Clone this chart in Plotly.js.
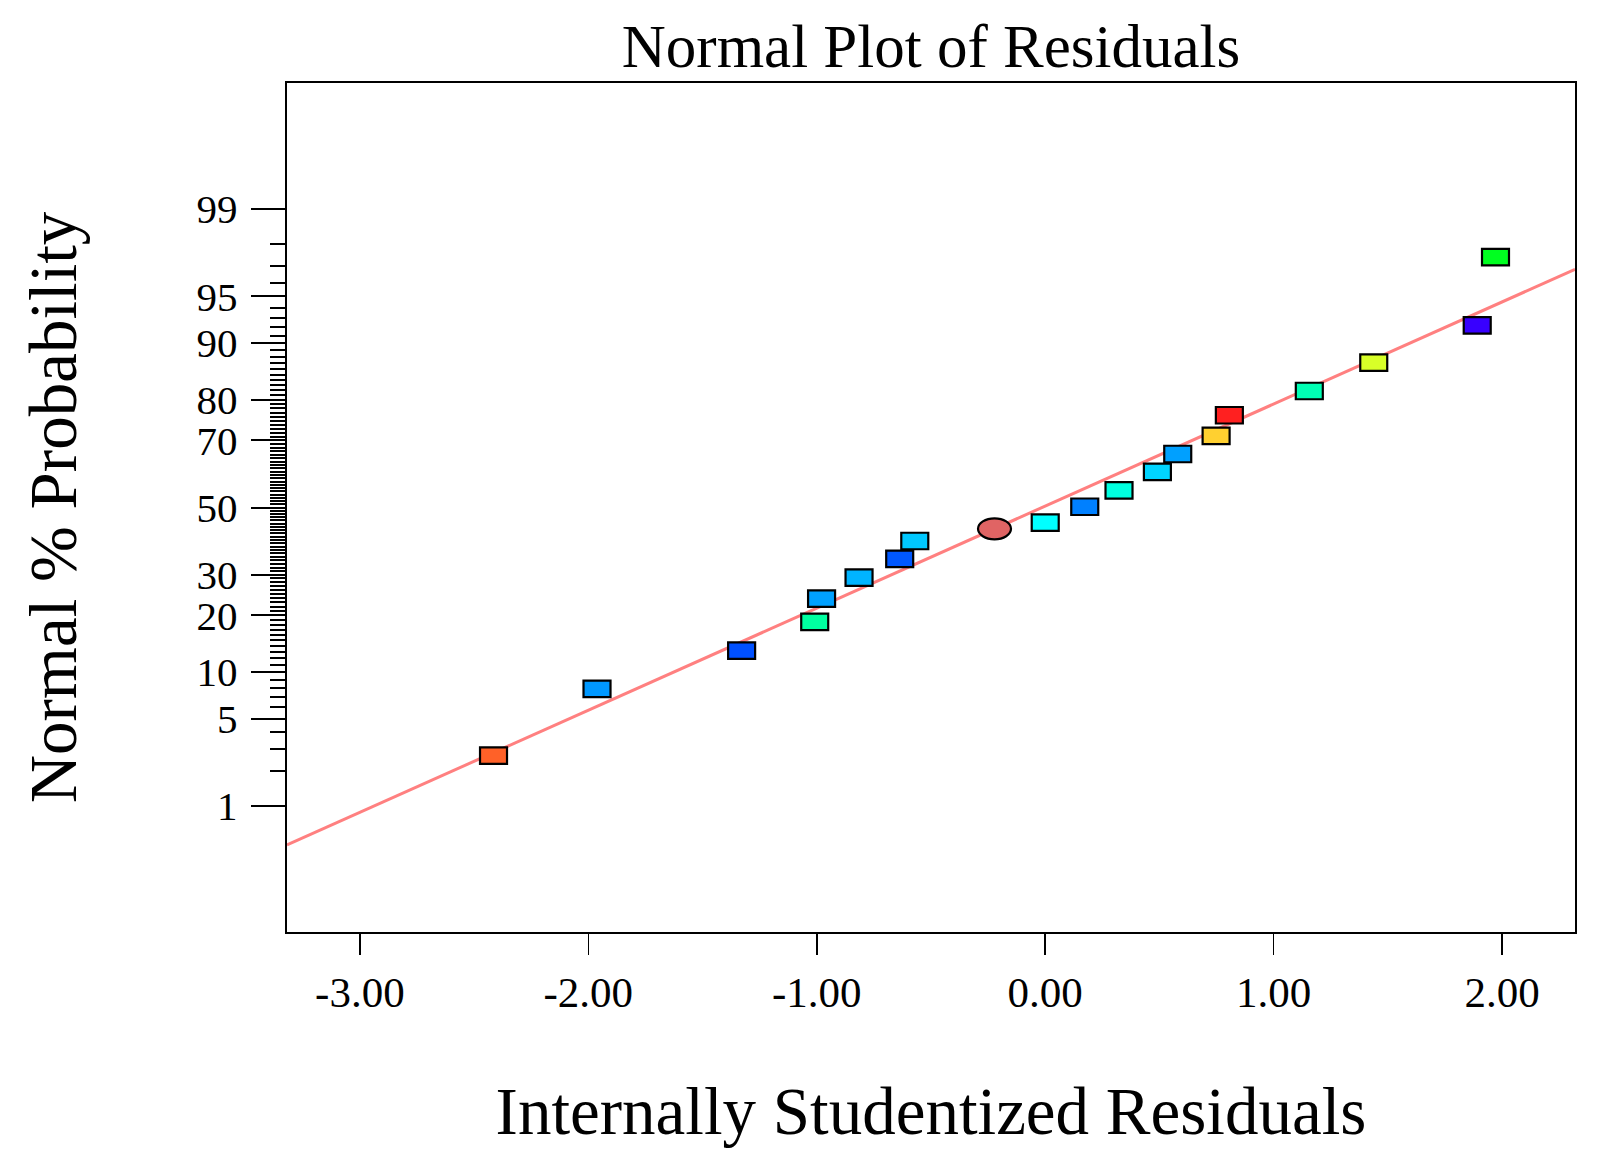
<!DOCTYPE html>
<html>
<head>
<meta charset="utf-8">
<script src="https://cdn.plot.ly/plotly-3.0.1.min.js"></script>
<style>
  html, body { margin: 0; padding: 0; background: #fff; }
  #chart { width: 1612px; height: 1164px; }
</style>
</head>
<body>
<div id="chart"></div>
<script>
// ---- Data ----
const residuals = [-2.415, -1.962, -1.329, -1.009, -0.979, -0.815, -0.637, -0.571, -0.222, 0.000,
                   0.173, 0.323, 0.491, 0.580, 0.748, 0.806, 1.156, 1.438, 1.891, 1.971];
const probPct   = [2.65, 7.88, 13.24, 18.62, 23.86, 29.25, 34.42, 39.70, 43.41, 45.30,
                   50.24, 55.33, 60.91, 66.17, 71.19, 76.39, 81.81, 87.05, 92.22, 97.45];
const pointColors = ['#FF6128', '#0098FF', '#0050FF', '#00FFA0', '#00A0FF', '#00B4FF', '#0058FF', '#00C8FF', '#E06464', '#00FFFF',
                     '#0080FF', '#00FFE0', '#00D4FF', '#00A0FF', '#FFD030', '#FF2020', '#00FFB4', '#D8FF28', '#3800FF', '#00FF20'];
const pointShapes = ['rect','rect','rect','rect','rect','rect','rect','rect','circle','rect',
                     'rect','rect','rect','rect','rect','rect','rect','rect','rect','rect'];
const lineX   = [-3.319, 2.319];
const linePct = [0.427, 96.83];
const majorTickPct = [1, 5, 10, 20, 30, 50, 70, 80, 90, 95, 99];
const majorTickLabels = ['1', '5', '10', '20', '30', '50', '70', '80', '90', '95', '99'];
const minorTickPct = [2,3,4,6,7,8,9,11,12,13,14,15,16,17,18,19,21,22,23,24,25,26,27,28,29,
                      31,32,33,34,35,36,37,38,39,40,41,42,43,44,45,46,47,48,49,51,52,53,54,55,56,57,58,59,
                      60,61,62,63,64,65,66,67,68,69,71,72,73,74,75,76,77,78,79,81,82,83,84,85,86,87,88,89,
                      91,92,93,94,96,97,98];
const xTickVals = [-3, -2, -1, 0, 1, 2];
const xTickLabels = ['-3.00', '-2.00', '-1.00', '0.00', '1.00', '2.00'];

// ---- Normal quantile (probit) transform for the probability axis ----
function probit(p) {
  // Acklam's algorithm
  const a = [-3.969683028665376e+01, 2.209460984245205e+02, -2.759285104469687e+02, 1.383577518672690e+02, -3.066479806614716e+01, 2.506628277459239e+00];
  const b = [-5.447609879822406e+01, 1.615858368580409e+02, -1.556989798598866e+02, 6.680131188771972e+01, -1.328068155288572e+01];
  const c = [-7.784894002430293e-03, -3.223964580411365e-01, -2.400758277161838e+00, -2.549732539343734e+00, 4.374664141464968e+00, 2.938163982698783e+00];
  const d = [7.784695709041462e-03, 3.224671290700398e-01, 2.445134137142996e+00, 3.754408661907416e+00];
  const plow = 0.02425, phigh = 1 - plow;
  let q, r;
  if (p < plow) {
    q = Math.sqrt(-2 * Math.log(p));
    return (((((c[0]*q+c[1])*q+c[2])*q+c[3])*q+c[4])*q+c[5]) / ((((d[0]*q+d[1])*q+d[2])*q+d[3])*q+1);
  } else if (p <= phigh) {
    q = p - 0.5; r = q*q;
    return (((((a[0]*r+a[1])*r+a[2])*r+a[3])*r+a[4])*r+a[5])*q / (((((b[0]*r+b[1])*r+b[2])*r+b[3])*r+b[4])*r+1);
  } else {
    q = Math.sqrt(-2 * Math.log(1 - p));
    return -(((((c[0]*q+c[1])*q+c[2])*q+c[3])*q+c[4])*q+c[5]) / ((((d[0]*q+d[1])*q+d[2])*q+d[3])*q+1);
  }
}
const toZ = pct => probit(pct / 100);

const FONT = '"Liberation Serif", "Times New Roman", serif';
const yRange = [-3.309, 3.309];
const xRange = [-3.319, 2.319];

const pointZ = probPct.map(toZ);

const traces = [
  {
    x: lineX, y: linePct.map(toZ), xaxis: 'x', yaxis: 'y',
    mode: 'lines', line: { color: 'rgb(255,128,128)', width: 3 },
    hoverinfo: 'skip', showlegend: false
  },
  {
    x: residuals, y: pointZ, xaxis: 'x', yaxis: 'y',
    mode: 'markers', marker: { size: 1, opacity: 0 },
    text: probPct.map(p => p.toFixed(2) + '%'),
    hovertemplate: '%{x:.2f}, %{text}<extra></extra>',
    showlegend: false
  },
  {
    x: [xRange[0]], y: [0], xaxis: 'x', yaxis: 'y2',
    mode: 'markers', marker: { size: 1, opacity: 0 },
    hoverinfo: 'skip', showlegend: false
  }
];

// markers drawn as pixel-sized shapes anchored at the data points
const shapes = residuals.map((xv, i) => {
  const isEll = pointShapes[i] === 'circle';
  const hw = isEll ? 16.5 : 13.5, hh = isEll ? 10.5 : 8.25;
  return {
    type: isEll ? 'circle' : 'rect',
    xref: 'x', yref: 'y',
    xsizemode: 'pixel', ysizemode: 'pixel',
    xanchor: xv, yanchor: pointZ[i],
    x0: -hw, x1: hw, y0: -hh, y1: hh,
    fillcolor: pointColors[i],
    line: { color: '#000', width: 2.2 },
    layer: 'above'
  };
});

const layout = {
  width: 1612, height: 1164,
  paper_bgcolor: '#fff', plot_bgcolor: '#fff',
  margin: { l: 287, r: 37, t: 83, b: 232 },
  font: { family: FONT, color: '#000' },
  title: {
    text: 'Normal Plot of Residuals',
    font: { family: FONT, size: 61, color: '#000' },
    x: 0.5, xref: 'paper', xanchor: 'center',
    y: 1 - 46 / 1164, yref: 'container', yanchor: 'middle'
  },
  xaxis: {
    range: xRange, showgrid: false, zeroline: false,
    showline: true, linecolor: '#000', linewidth: 2.2, mirror: true,
    ticks: 'outside', ticklen: 21, tickwidth: 1.5, tickcolor: '#000',
    tickvals: xTickVals, ticktext: xTickLabels,
    tickfont: { family: FONT, size: 43, color: '#000' },
    ticklabelstandoff: 0,
    title: { text: 'Internally Studentized Residuals', font: { family: FONT, size: 67, color: '#000' }, standoff: 72 }
  },
  yaxis: {
    range: yRange, showgrid: false, zeroline: false,
    showline: true, linecolor: '#000', linewidth: 2.2, mirror: true,
    ticks: 'outside', ticklen: 34, tickwidth: 2, tickcolor: '#000',
    tickvals: majorTickPct.map(toZ), ticktext: majorTickLabels,
    tickfont: { family: FONT, size: 41, color: '#000' },
    ticklabelstandoff: 5,
    title: { text: 'Normal % Probability', font: { family: FONT, size: 67, color: '#000' }, standoff: 98 }
  },
  yaxis2: {
    overlaying: 'y', side: 'left', anchor: 'x',
    range: yRange, showgrid: false, zeroline: false, showline: false,
    ticks: 'outside', ticklen: 16, tickwidth: 2, tickcolor: '#000',
    tickvals: minorTickPct.map(toZ), showticklabels: false
  },
  shapes: shapes,
  showlegend: false
};

Plotly.newPlot('chart', traces, layout, { displayModeBar: false, staticPlot: true });
</script>
</body>
</html>
